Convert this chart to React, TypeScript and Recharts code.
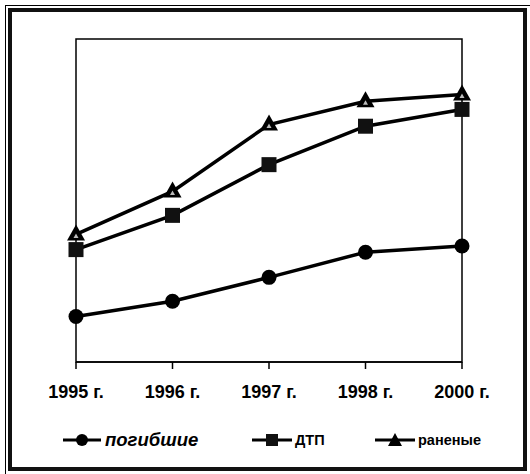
import React from 'react';
import { LineChart, Line, XAxis, YAxis, Legend, ReferenceArea } from 'recharts';

const years = ['1995 г.', '1996 г.', '1997 г.', '1998 г.', '2000 г.'];
const seriesNames = ['погибшие', 'ДТП', 'раненые'];
const pogibshie = [14.1, 18.8, 26.2, 34.0, 35.9];
const dtp = [34.8, 45.4, 61.1, 73.0, 78.2];
const ranenye = [39.5, 52.8, 73.5, 80.7, 82.8];

const data = years.map((y, i) => ({ year: y, pogibshie: pogibshie[i], dtp: dtp[i], ranenye: ranenye[i] }));

const FONT = '"Liberation Sans", Arial, sans-serif';

const CircleDot = (props: any) => {
  const { cx, cy } = props;
  if (cx == null || cy == null) return null;
  return <circle cx={cx} cy={cy} r={7.5} fill="#000" />;
};
const SquareDot = (props: any) => {
  const { cx, cy } = props;
  if (cx == null || cy == null) return null;
  return <rect x={cx - 7.5} y={cy - 7.5} width={15} height={15} fill="#111" />;
};
const TriangleDot = (props: any) => {
  const { cx, cy } = props;
  if (cx == null || cy == null) return null;
  return (
    <g>
      <polygon points={`${cx},${cy - 10} ${cx - 9},${cy + 6} ${cx + 9},${cy + 6}`} fill="#000" />
      <polygon points={`${cx},${cy - 1} ${cx - 2.5},${cy + 3.5} ${cx + 2.5},${cy + 3.5}`} fill="#bbb" />
    </g>
  );
};

const legendPos = [
  { iconLeft: 63, iconW: 38, textLeft: 105, style: { fontStyle: 'italic', fontSize: 18.5 } },
  { iconLeft: 252, iconW: 40, textLeft: 295, style: { fontSize: 14.5 } },
  { iconLeft: 375, iconW: 40, textLeft: 418, style: { fontSize: 14.5 } },
];

const LegendIcon = ({ idx, w }: { idx: number; w: number }) => {
  const c = w / 2;
  return (
    <svg width={w} height={16} style={{ display: 'block' }}>
      <line x1={0} y1={8} x2={w} y2={8} stroke="#000" strokeWidth={3} />
      {idx === 0 && <circle cx={c} cy={8} r={6} fill="#000" />}
      {idx === 1 && <rect x={c - 6} y={2} width={12} height={12} fill="#111" />}
      {idx === 2 && <polygon points={`${c},1 ${c - 7},14 ${c + 7},14`} fill="#000" />}
    </svg>
  );
};

const renderLegend = () => (
  <div style={{ position: 'relative', width: 530, height: 24, fontFamily: FONT, fontWeight: 'bold', color: '#000' }}>
    {seriesNames.map((name, i) => (
      <React.Fragment key={name}>
        <div style={{ position: 'absolute', left: legendPos[i].iconLeft, top: 4 }}>
          <LegendIcon idx={i} w={legendPos[i].iconW} />
        </div>
        <div style={{ position: 'absolute', left: legendPos[i].textLeft, top: 2, lineHeight: '20px', ...(legendPos[i].style as any) }}>
          {name}
        </div>
      </React.Fragment>
    ))}
  </div>
);

export default function App() {
  return (
    <div style={{ position: 'absolute', left: 0, top: 0, width: 530, height: 474, background: '#fff', overflow: 'hidden' }}>
      <div style={{ position: 'absolute', left: 5, top: 5, width: 524, height: 468, borderLeft: '1px solid #000', borderTop: '1px solid #000' }} />
      <div style={{ position: 'absolute', left: 8, top: 8, width: 519, height: 463, border: '4px solid #111', boxSizing: 'border-box' }} />
      <LineChart width={530} height={474} data={data} margin={{ top: 39, right: 68, left: 76, bottom: 72 }} style={{ position: 'absolute', left: 0, top: 0 }}>
        <YAxis hide domain={[0, 100]} type="number" />
        <XAxis
          dataKey="year"
          height={40}
          tickSize={7}
          tickMargin={16}
          axisLine={{ stroke: '#000', strokeWidth: 1.5 }}
          tickLine={{ stroke: '#000', strokeWidth: 1.5 }}
          tick={{ fill: '#000', fontSize: 18, fontWeight: 'bold', fontFamily: FONT }}
          interval={0}
        />
        <ReferenceArea x1={years[0]} x2={years[years.length - 1]} y1={0} y2={100} fill="none" fillOpacity={0} stroke="#000" strokeWidth={1.5} />
        <Line dataKey="pogibshie" name={seriesNames[0]} stroke="#000" strokeWidth={3.5} dot={<CircleDot />} isAnimationActive={false} />
        <Line dataKey="dtp" name={seriesNames[1]} stroke="#000" strokeWidth={3.5} dot={<SquareDot />} isAnimationActive={false} />
        <Line dataKey="ranenye" name={seriesNames[2]} stroke="#000" strokeWidth={3.5} dot={<TriangleDot />} isAnimationActive={false} />
        <Legend layout="horizontal" verticalAlign="middle" align="center" wrapperStyle={{ top: 428, left: 0, width: 530 }} content={renderLegend} />
      </LineChart>
    </div>
  );
}
